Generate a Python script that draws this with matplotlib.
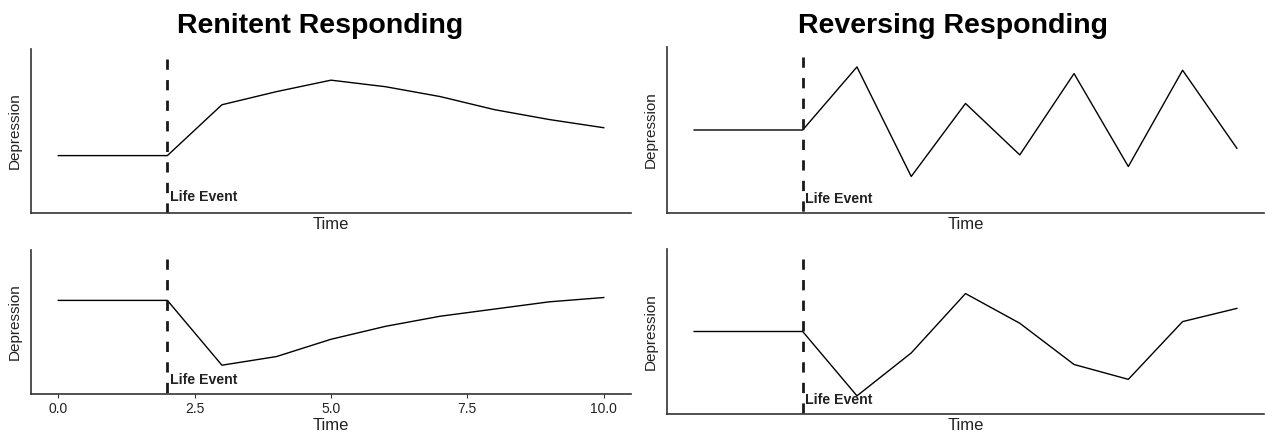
import matplotlib
matplotlib.use("Agg")
import matplotlib.pyplot as plt

plt.rcParams['font.family'] = ['Liberation Sans', 'DejaVu Sans']

time = [0, 1, 2, 3, 4, 5, 6, 7, 8, 9, 10]
event_time = 2

# depression scores for each response pattern
renitent_up = [3.5, 3.5, 3.5, 6.6, 7.4, 8.1, 7.7, 7.1, 6.3, 5.7, 5.2]
renitent_down = [6.5, 6.5, 6.5, 2.0, 2.6, 3.8, 4.7, 5.4, 5.9, 6.4, 6.7]
reversing_a = [5.0, 5.0, 5.0, 8.8, 2.2, 6.6, 3.5, 8.4, 2.8, 8.6, 3.9]
reversing_b = [5.0, 5.0, 5.0, 1.1, 3.7, 7.3, 5.5, 3.0, 2.1, 5.6, 6.4]

titles = ['Renitent Responding', 'Reversing Responding']

W, H = 1266, 432
fig = plt.figure(figsize=(W / 100, H / 100), dpi=100)


def box(left, right, top, bottom):
    return [left / W, 1 - bottom / H, (right - left) / W, (bottom - top) / H]


ax_tl = fig.add_axes(box(31, 631, 49, 213))
ax_bl = fig.add_axes(box(31, 631, 250, 394))
ax_tr = fig.add_axes(box(667, 1264, 47, 213))
ax_br = fig.add_axes(box(667, 1264, 249, 414))

panels = [
    (ax_tl, renitent_up, 1.0),
    (ax_bl, renitent_down, 1.0),
    (ax_tr, reversing_a, 0.87),
    (ax_br, reversing_b, 0.82),
]

for ax, values, text_y in panels:
    ax.plot(time, values, color='black', lw=1.0)
    # event marker, drawn top-down so the dash pattern starts at the top
    ax.plot([event_time, event_time], [9.4, 0], color='#1a1a1a', lw=2.0,
            linestyle=(0, (3.7, 3.7)), dash_capstyle='butt')
    ax.text(event_time + 0.05, text_y, 'Life Event', fontsize=10.2, fontweight='bold',
            color='#222222', va='center', ha='left')
    ax.set_xlim(-0.5, 10.5)
    ax.set_ylim(0, 10)
    ax.set_yticks([])
    ax.set_xlabel('Time', fontsize=12, labelpad=3, color='#222222')
    ax.set_ylabel('Depression', fontsize=11, labelpad=7, color='#222222')
    for s in ['top', 'right']:
        ax.spines[s].set_visible(False)
    for s in ['left', 'bottom']:
        ax.spines[s].set_color('#333333')
        ax.spines[s].set_linewidth(1.2)

# only the lower left panel keeps its time ticks
for ax in [ax_tl, ax_tr, ax_br]:
    ax.set_xticks([])
ax_bl.set_xticks([0, 2.5, 5, 7.5, 10])
ax_bl.set_xticklabels(['0.0', '2.5', '5.0', '7.5', '10.0'])
ax_bl.tick_params(axis='x', length=3, labelsize=10, color='#333333', labelcolor='#222222', pad=3)
ax_bl.xaxis.labelpad = 1

# titles sit over each half of the figure
fig.text(320 / W, 1 - 33 / H, titles[0], fontsize=20.5, fontweight='bold',
         ha='center', va='baseline')
fig.text(953 / W, 1 - 33 / H, titles[1], fontsize=20.5, fontweight='bold',
         ha='center', va='baseline')

fig.savefig('out.png', dpi=100)
